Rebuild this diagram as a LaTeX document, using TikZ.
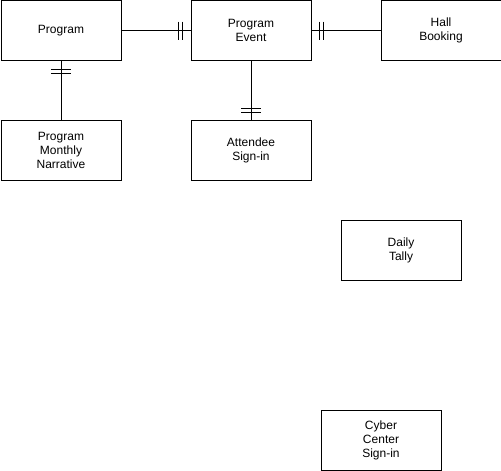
\documentclass[tikz,border=0pt]{standalone}
\usepackage{fontspec}
\setmainfont{Liberation Sans}
\begin{document}
\begin{tikzpicture}[x=1pt,y=-1pt,line width=1pt,
  ent/.style={draw,minimum width=120pt,minimum height=60pt,inner sep=0pt,align=center,font=\fontsize{12}{14}\selectfont,anchor=north west}]
\useasboundingbox (0,0) rectangle (501,471);
\node[ent] (prog) at (0.5,0) {Program};
\node[ent] (ev) at (190.5,0) {Program\\Event};
\node[ent] (hall) at (380.5,0) {Hall\\Booking};
\node[ent] (narr) at (0.5,120) {Program\\Monthly\\Narrative};
\node[ent] (att) at (190.5,120) {Attendee\\Sign-in};
\node[ent] (tally) at (340.5,220) {Daily\\Tally};
\node[ent] (cyber) at (320.5,410) {Cyber\\Center\\Sign-in};
\draw (prog.east) -- (ev.west);
\draw ([xshift=-8]ev.west) ++(0,-9) -- ++(0,18);
\draw ([xshift=-12]ev.west) ++(0,-9) -- ++(0,18);
\draw (ev.east) -- (hall.west);
\draw ([xshift=8]ev.east) ++(0,-9) -- ++(0,18);
\draw ([xshift=12]ev.east) ++(0,-9) -- ++(0,18);
\draw (prog.south) -- (narr.north);
\draw ([yshift=-8]prog.south) ++(-10,0) -- ++(20,0);
\draw ([yshift=-12]prog.south) ++(-10,0) -- ++(20,0);
\draw (ev.south) -- (att.north);
\draw ([yshift=8]att.north) ++(-10,0) -- ++(20,0);
\draw ([yshift=12]att.north) ++(-10,0) -- ++(20,0);
\end{tikzpicture}
\end{document}
